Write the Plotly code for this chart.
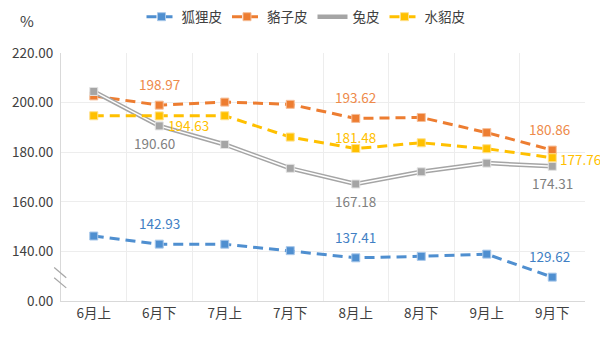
import plotly.graph_objects as go

categories = ["6月上", "6月下", "7月上", "7月下", "8月上", "8月下", "9月上", "9月下"]
fox = [146.2, 142.93, 142.9, 140.3, 137.41, 138.0, 138.9, 129.62]
raccoon = [202.7, 198.97, 200.2, 199.3, 193.62, 194.0, 187.9, 180.86]
rabbit = [204.5, 190.60, 183.1, 173.5, 167.18, 172.1, 175.6, 174.31]
mink = [194.7, 194.63, 194.7, 186.1, 181.48, 183.8, 181.4, 177.76]
names = ["狐狸皮", "貉子皮", "兔皮", "水貂皮"]
label_idx = [1, 4, 7]
ytick_vals = [120, 140, 160, 180, 200, 220]
ytick_text = ["0.00", "140.00", "160.00", "180.00", "200.00", "220.00"]

FONT = "Noto Sans CJK SC, Microsoft YaHei, sans-serif"
c_fox, c_rac, c_rab, c_mink = "#4F8FD0", "#ED7D31", "#A5A5A5", "#FFC000"
xs = list(range(len(categories)))

fig = go.Figure()
DASH = "10px,6px"
fig.add_trace(go.Scatter(x=xs, y=fox, name=names[0], mode="lines+markers",
                         line=dict(color=c_fox, width=3, dash=DASH),
                         marker=dict(symbol="square", size=8, color=c_fox, line=dict(color="#A9C8EA", width=1))))
fig.add_trace(go.Scatter(x=xs, y=raccoon, name=names[1], mode="lines+markers",
                         line=dict(color=c_rac, width=3, dash=DASH),
                         marker=dict(symbol="square", size=8, color=c_rac, line=dict(color="#F6BE98", width=1))))
fig.add_trace(go.Scatter(x=xs, y=rabbit, name=names[2], mode="lines", legendgroup="rab",
                         line=dict(color=c_rab, width=4.5)))
fig.add_trace(go.Scatter(x=xs, y=rabbit, name=names[2], mode="lines+markers", legendgroup="rab",
                         showlegend=False,
                         line=dict(color="white", width=1.5),
                         marker=dict(symbol="square", size=8, color=c_rab, line=dict(color="#E3E3E3", width=1))))
fig.add_trace(go.Scatter(x=xs, y=mink, name=names[3], mode="lines+markers",
                         line=dict(color=c_mink, width=3, dash=DASH),
                         marker=dict(symbol="square", size=8, color=c_mink, line=dict(color="#FFE08A", width=1))))

ann = []
def lab(series, color, offsets):
    for i, (dx, dy, anc) in zip(label_idx, offsets):
        ann.append(dict(x=xs[i], y=series[i], xref="x", yref="y", text=f"{series[i]:.2f}",
                        showarrow=False, xshift=dx, yshift=dy, xanchor=anc,
                        font=dict(family=FONT, size=13.5, color=color)))

lab(fox, "#3F7FC4", [(0, 21, "center"), (0, 21, "center"), (-3, 21, "center")])
lab(raccoon, "#EE8A4A", [(0, 21, "center"), (0, 21, "center"), (-3, 21, "center")])
lab(rabbit, "#808080", [(-5, -17, "center"), (0, -17, "center"), (0, -17, "center")])
lab(mink, "#FFBF00", [(7, -9, "left"), (0, 12, "center"), (6, -1, "left")])

# "%" unit label at top-left
ann.append(dict(x=-0.065, y=1.133, xref="paper", yref="paper", text="%", showarrow=False,
                xanchor="center", yanchor="middle",
                font=dict(family=FONT, size=15, color="#404040")))

shapes = []
for y0, y1 in [(133.5, 129.4), (129.4, 125.3)]:
    shapes.append(dict(type="line", xref="paper", yref="y", x0=-0.013, x1=0.010,
                       y0=y0, y1=y1, line=dict(color="#A6A6A6", width=1.2)))

fig.update_layout(
    width=600, height=338,
    margin=dict(l=61, r=15, t=53, b=37, autoexpand=False),
    paper_bgcolor="white", plot_bgcolor="white",
    font=dict(family=FONT, size=13, color="#404040"),
    legend=dict(orientation="h", xref="container", yref="container", x=0.51, xanchor="center",
                y=0.95, yanchor="middle",
                font=dict(family=FONT, size=13.5, color="#404040"),
                itemwidth=30, tracegroupgap=0),
    annotations=ann, shapes=shapes,
    xaxis=dict(range=[-0.5, 7.5], tickvals=xs, ticktext=categories, showgrid=False,
               zeroline=False, showline=True, linecolor="#D9D9D9", linewidth=1,
               ticks="", tickfont=dict(family=FONT, size=13.5, color="#404040"),
               minor=dict(tickvals=[k - 0.5 for k in range(len(categories) + 1)], showgrid=True,
                          gridcolor="#EDEDED", gridwidth=1, ticks="")),
    yaxis=dict(range=[120, 220], tickvals=ytick_vals, ticktext=ytick_text, showgrid=True,
               gridcolor="#EDEDED", zeroline=False, showline=True, linecolor="#D9D9D9",
               ticks="", ticklabelstandoff=4,
               tickfont=dict(family=FONT, size=13.5, color="#404040")),
)

fig.write_html("out.html")
